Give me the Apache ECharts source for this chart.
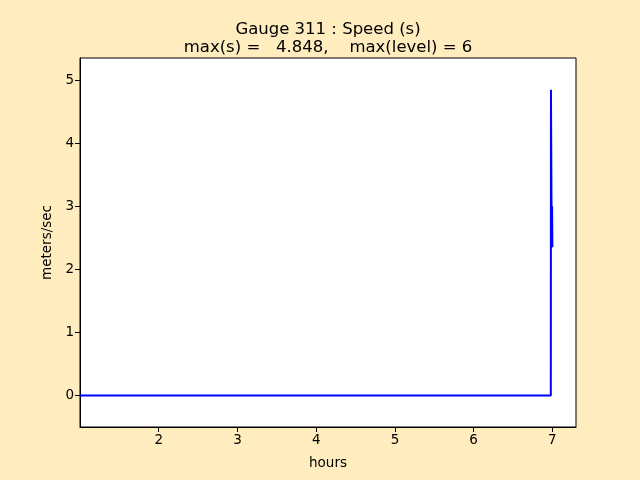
<!DOCTYPE html>
<html>
<head>
<meta charset="utf-8">
<script src="https://cdn.jsdelivr.net/npm/echarts@6/dist/echarts.min.js"></script>
<style>html,body{margin:0;padding:0;background:#ffecbf;}#c{width:640px;height:480px;}</style>
</head>
<body>
<div id="c"></div>
<script>
var hours = [1.0, 2.0, 3.0, 4.0, 5.0, 6.0, 6.98, 6.982, 6.988, 6.992, 6.996, 7.0];
var speed = [0, 0, 0, 0, 0, 0, 0, 4.848, 3.2, 2.6, 3.0, 2.35];
var xTicks = [2, 3, 4, 5, 6, 7];
var yTicks = [0, 1, 2, 3, 4, 5];
var titleText = 'Gauge 311 : Speed (s)\nmax(s) =   4.848,    max(level) = 6';

var chart = echarts.init(document.getElementById('c'), null, {renderer: 'canvas'});
var font = 'DejaVu Sans';
chart.setOption({
  backgroundColor: '#ffecbf',
  animation: false,
  title: {
    text: titleText,
    left: 323, top: 16, textAlign: 'center',
    textStyle: {fontFamily: font, fontSize: 16.5, fontWeight: 'normal', color: '#000', lineHeight: 18}
  },
  grid: {left: 80, right: 64, top: 58, bottom: 53, show: true, backgroundColor: '#fff', borderColor: '#000', borderWidth: 1},
  xAxis: {
    type: 'value', min: 1.0, max: 7.3,
    name: 'hours', nameLocation: 'middle', nameGap: 29,
    nameTextStyle: {fontFamily: font, fontSize: 13.5, color: '#000'},
    axisLine: {show: true, onZero: false, lineStyle: {color: '#000', width: 1}},
    axisTick: {show: true, length: 5, inside: false, lineStyle: {color: '#000'}, customValues: xTicks},
    axisLabel: {fontFamily: font, fontSize: 13.5, color: '#000', margin: 6, customValues: xTicks},
    splitLine: {show: false}
  },
  yAxis: {
    type: 'value', min: -0.5, max: 5.35,
    name: 'meters/sec', nameLocation: 'middle', nameGap: 21,
    nameTextStyle: {fontFamily: font, fontSize: 13.5, color: '#000'},
    axisLine: {show: true, onZero: false, lineStyle: {color: '#000', width: 1}},
    axisTick: {show: true, length: 5, inside: false, lineStyle: {color: '#000'}, customValues: yTicks},
    axisLabel: {fontFamily: font, fontSize: 13.5, color: '#000', margin: 6, customValues: yTicks},
    splitLine: {show: false}
  },
  series: [{
    type: 'line',
    data: hours.map(function (h, i) { return [h, speed[i]]; }),
    showSymbol: false,
    lineStyle: {color: '#0000ff', width: 2},
    itemStyle: {color: '#0000ff'}
  }]
});
</script>
</body>
</html>
